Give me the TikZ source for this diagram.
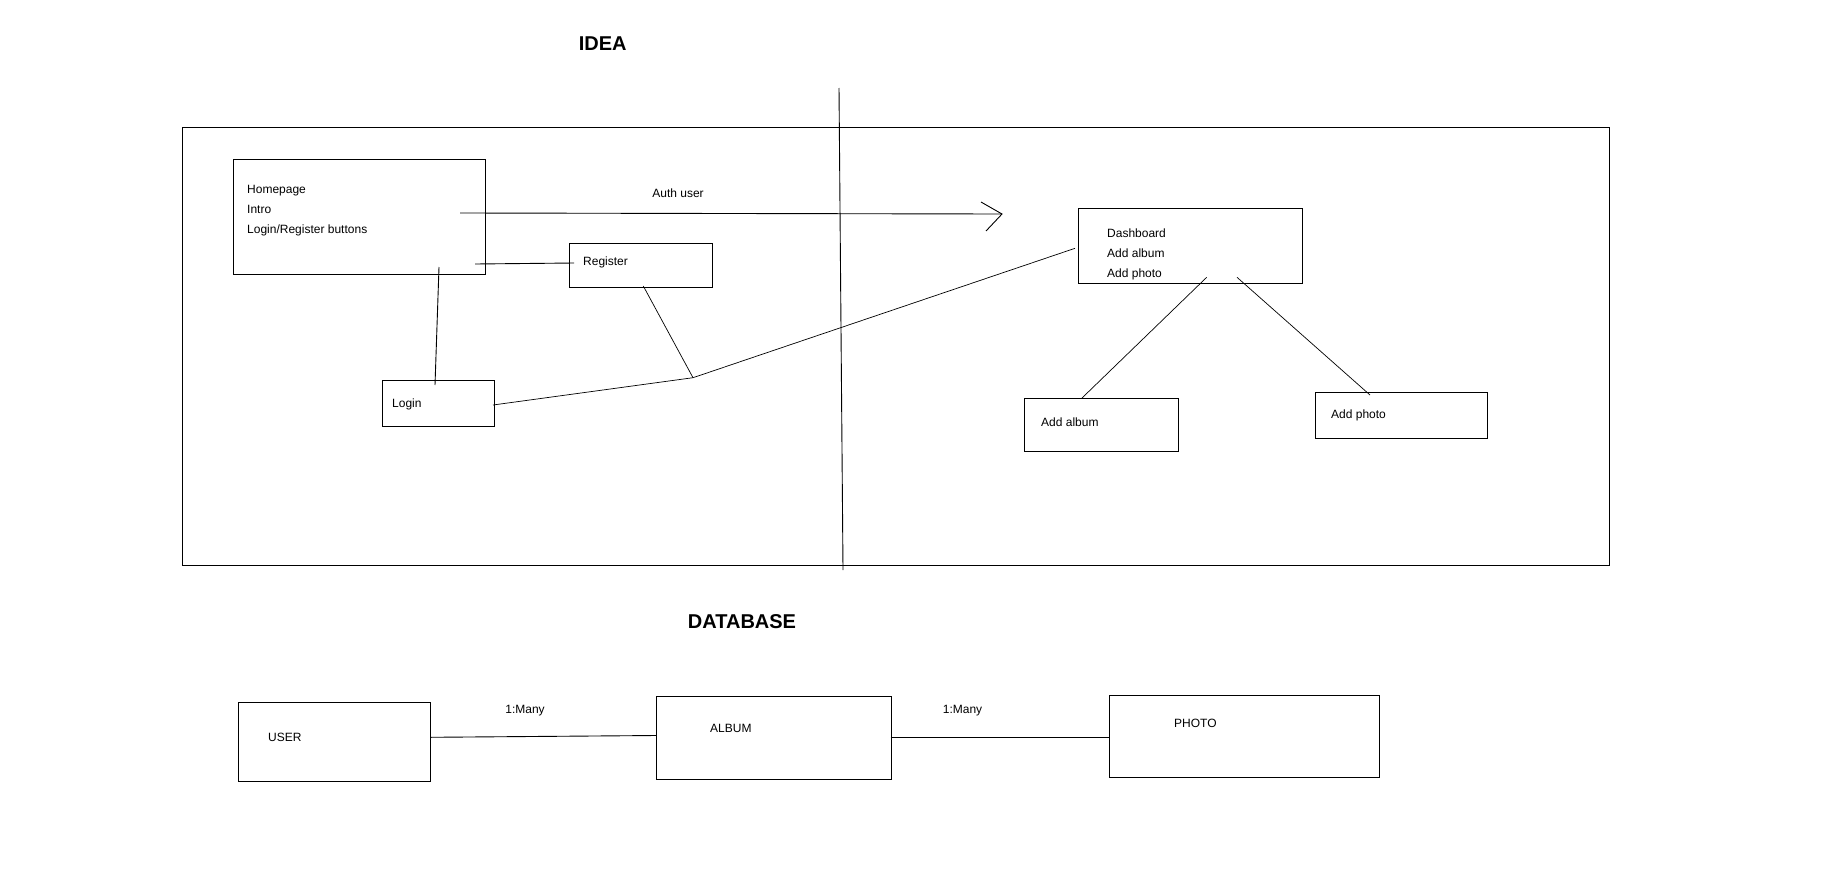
\documentclass[tikz,border=0pt]{standalone}
\usepackage{fontspec}
\setmainfont{Liberation Sans}
\begin{document}
\begin{tikzpicture}[x=1pt,y=-1pt,
  box/.style={draw,line width=1pt,inner sep=0pt,anchor=north west},
  lbl/.style={inner sep=0pt,anchor=base west,font=\fontsize{12}{14}\selectfont},
  ttl/.style={inner sep=0pt,anchor=center,font=\fontsize{20}{24}\selectfont\bfseries},
  con/.style={line width=0.9pt},
  thin/.style={line width=0.7pt}]
\useasboundingbox[fill=white] (0,0) rectangle (1835,878);

% titles
\node[ttl] (idea) at (602.7,44) {IDEA};
\node[ttl] (db) at (742,621.7) {DATABASE};

% outer frame and divider
\node[box,minimum width=1427.5pt,minimum height=438.5pt] (frame) at (181.5,126.5) {};
\coordinate (divtop) at (839,88);
\coordinate (divbot) at (843,570);
\draw[con] (divtop) -- (divbot);

% homepage
\node[box,minimum width=252pt,minimum height=115pt] (hp) at (233,159) {};
\node[lbl] (hp1) at (247,193.5) {Homepage};
\node[lbl] (hp2) at (247,213.5) {Intro};
\node[lbl] (hp3) at (247,233.5) {Login/Register buttons};

% register
\node[box,minimum width=143pt,minimum height=44pt] (reg) at (569,243) {};
\node[lbl] (regt) at (583,265) {Register};

% login
\node[box,minimum width=112pt,minimum height=46pt] (login) at (382,380) {};
\node[lbl] (logint) at (392,407) {Login};

% dashboard
\node[box,minimum width=224pt,minimum height=75pt] (dash) at (1078,208) {};
\node[lbl] (d1) at (1107,237) {Dashboard};
\node[lbl] (d2) at (1107,257) {Add album};
\node[lbl] (d3) at (1107,277) {Add photo};

% add album / add photo
\node[box,minimum width=154pt,minimum height=53pt] (aalb) at (1024,398) {};
\node[lbl] (aalbt) at (1041,426.5) {Add album};
\node[box,minimum width=172pt,minimum height=46pt] (apho) at (1315,392) {};
\node[lbl] (aphot) at (1331,418) {Add photo};

% auth user arrow
\node[inner sep=0pt,anchor=base,font=\fontsize{12}{14}\selectfont] (auth) at (678,197.5) {Auth user};
\coordinate (arrs) at (460,213);
\coordinate (arrt) at (1002,214);
\coordinate (w1) at (981,202);
\coordinate (w2) at (986,231);
\draw[con] (arrs) -- (arrt);
\draw[con] (w1) -- (arrt) -- (w2);

% homepage - register
\coordinate (hpr) at (475,264);
\coordinate (regl) at (574,263);
\draw[con] (hpr) -- (regl);

% homepage - login
\coordinate (hpb) at (439,267);
\coordinate (logtop) at (435,385);
\draw[con] (hpb) -- (logtop);

% login / register - dashboard
\coordinate (logr) at (493,405);
\coordinate (junc) at (693,377.7);
\coordinate (regb) at (643.3,286);
\coordinate (dashl) at (1075,248.3);
\draw[thin] (logr) -- (junc) -- (dashl);
\draw[thin] (regb) -- (junc);

% dashboard - add album / add photo
\coordinate (db1) at (1206.7,277.3);
\coordinate (aalbtop) at (1081.7,398.3);
\coordinate (db2) at (1237,277.3);
\coordinate (aphotop) at (1370,395);
\draw[thin] (db1) -- (aalbtop);
\draw[thin] (db2) -- (aphotop);

% database
\node[box,minimum width=192pt,minimum height=79pt] (user) at (238,702) {};
\node[lbl] (usert) at (268,741.5) {USER};
\node[box,minimum width=234.5pt,minimum height=82.5pt] (album) at (656,696) {};
\node[lbl] (albumt) at (710,732.5) {ALBUM};
\node[box,minimum width=269.5pt,minimum height=82pt] (photo) at (1109,695) {};
\node[lbl] (photot) at (1174,727.5) {PHOTO};

\coordinate (ue) at (430,737.3);
\coordinate (aw) at (656,735.5);
\draw[con] (ue) -- (aw);
\coordinate (ae) at (890.5,737.3);
\coordinate (pw) at (1109,737.3);
\draw[con] (ae) -- (pw);

\node[inner sep=0pt,anchor=base,font=\fontsize{12}{14}\selectfont] (m1) at (525,713) {1:Many};
\node[inner sep=0pt,anchor=base,font=\fontsize{12}{14}\selectfont] (m2) at (962.5,713) {1:Many};
\end{tikzpicture}
\end{document}
